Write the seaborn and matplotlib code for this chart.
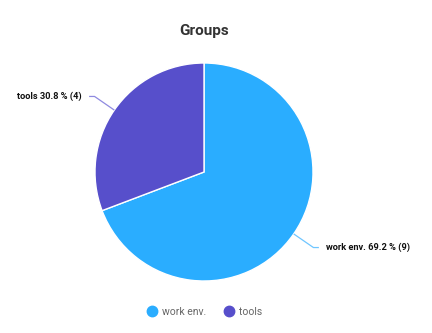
import numpy as np
import matplotlib
matplotlib.use("Agg")
import matplotlib.pyplot as plt
from matplotlib.lines import Line2D
import seaborn as sns

categories = ["work env.", "tools"]
counts = [9, 4]
colors = ["#2aadff", "#574fcb"]
line_colors = ["#6fc6ff", "#8f8ae0"]

sns.set_theme(style="white")
plt.rcParams["font.family"] = ["Roboto", "DejaVu Sans"]

fig = plt.figure(figsize=(4.32, 3.33), dpi=100)
cx, cy, r = 204, 172, 109
W, H = 432, 333
ax = fig.add_axes([(cx - r) / W, (H - cy - r) / H, 2 * r / W, 2 * r / H])
wedges, _ = ax.pie(counts, colors=colors, startangle=90, counterclock=False,
                   radius=1, wedgeprops=dict(edgecolor="white", linewidth=1))
ax.set_xlim(-1, 1)
ax.set_ylim(-1, 1)
ax.set_aspect("equal")
ax.axis("off")

total = sum(counts)
for i, w in enumerate(wedges):
    ang = np.deg2rad((w.theta1 + w.theta2) / 2)
    x0, y0 = np.cos(ang), np.sin(ang)
    side = 1 if x0 > 0 else -1
    ex, ey = x0 * 1.22, y0 * 1.22
    hx = ex + side * 0.05
    ax.plot([x0, ex, hx], [y0, ey, ey], color=line_colors[i], lw=0.9,
            clip_on=False, solid_capstyle="butt")
    pct = counts[i] / total * 100
    txt = f"{categories[i]} {pct:.1f} % ({counts[i]})"
    ax.text(hx + side * 0.065, ey, txt, ha="left" if side > 0 else "right",
            va="center", fontsize=6.7, fontweight="bold", color="#111111")

fig.text(cx / W, 1 - 31 / H, "Groups", ha="center", va="center",
         fontsize=11, fontweight="bold", color="#333333")

handles = [Line2D([0], [0], marker="o", linestyle="", markersize=7.5,
                  markerfacecolor=c, markeredgecolor=c) for c in colors]
fig.legend(handles, categories, loc="center", bbox_to_anchor=(cx / W, 1 - 312 / H),
           ncol=2, frameon=False, fontsize=7.5, labelcolor="#666666",
           handletextpad=0.4, columnspacing=1.5, handlelength=1.2)

fig.savefig("out.png", dpi=100)
